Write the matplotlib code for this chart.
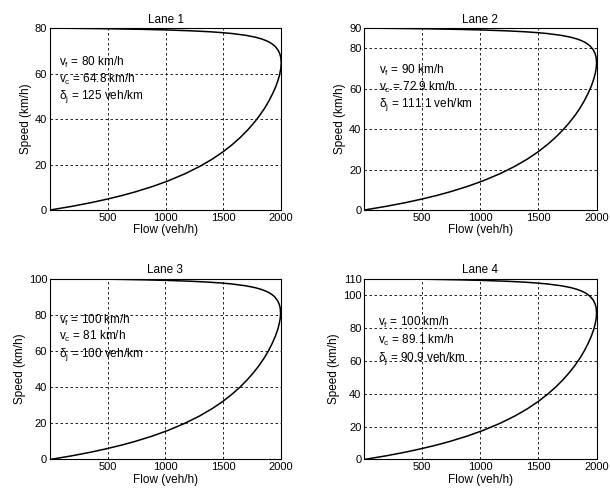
"""Speed-flow curves for four lanes (2x2 panels)."""

import matplotlib
matplotlib.use("Agg")
import matplotlib.pyplot as plt

plt.rcParams["font.family"] = ["Liberation Sans", "DejaVu Sans"]
plt.rcParams["mathtext.fontset"] = "custom"
plt.rcParams["mathtext.rm"] = "Liberation Sans"
plt.rcParams["mathtext.it"] = "Liberation Sans"

# Flow values (veh/h); same flow points used in every lane
flow = [0, 187, 351, 495, 624, 739, 890, 1021, 1170, 1296, 1404, 1497, 1577, 1648, 1710,
        1765, 1814, 1857, 1894, 1926, 1954, 1976, 1988, 1997, 2000, 1996, 1987, 1972, 1947,
        1928, 1905, 1874, 1833, 1777, 1697, 1577, 1492, 1380, 1226, 1001, 810, 548, 313, 168, 0]

# Speeds (km/h) matching the flow points above, per lane
speed1 = [0, 1.6, 3.2, 4.8, 6.4, 8, 10.4, 12.8, 16, 19.2, 22.4, 25.6, 28.8, 32, 35.2, 38.4,
          41.6, 44.8, 48, 51.2, 54.4, 57.6, 60, 62.4, 64.8, 67.2, 68.8, 70.4, 72, 72.8, 73.6,
          74.4, 75.2, 76, 76.8, 77.6, 78, 78.4, 78.8, 79.2, 79.44, 79.68, 79.84, 79.92, 80]
speed2 = [0, 1.8, 3.6, 5.4, 7.2, 9, 11.7, 14.4, 18, 21.6, 25.2, 28.8, 32.4, 36, 39.6, 43.2,
          46.8, 50.4, 54, 57.6, 61.2, 64.8, 67.5, 70.2, 72.9, 75.6, 77.4, 79.2, 81, 81.9, 82.8,
          83.7, 84.6, 85.5, 86.4, 87.3, 87.75, 88.2, 88.65, 89.1, 89.37, 89.64, 89.82, 89.91, 90]
speed3 = [0, 2, 4, 6, 8, 10, 13, 16, 20, 24, 28, 32, 36, 40, 44, 48, 52, 56, 60, 64, 68, 72,
          75, 78, 81, 84, 86, 88, 90, 91, 92, 93, 94, 95, 96, 97, 97.5, 98, 98.5, 99, 99.3,
          99.6, 99.8, 99.9, 100]
speed4 = [0, 2.2, 4.4, 6.6, 8.8, 11, 14.3, 17.6, 22, 26.4, 30.8, 35.2, 39.6, 44, 48.4, 52.8,
          57.2, 61.6, 66, 70.4, 74.8, 79.2, 82.5, 85.8, 89.1, 92.4, 94.6, 96.8, 99, 100.1,
          101.2, 102.3, 103.4, 104.5, 105.6, 106.7, 107.25, 107.8, 108.35, 108.9, 109.23,
          109.56, 109.78, 109.89, 110]

titles = ["Lane 1", "Lane 2", "Lane 3", "Lane 4"]
ymax = [80, 90, 100, 110]
yticks = [[0, 20, 40, 60, 80], [0, 20, 40, 60, 80, 90],
          [0, 20, 40, 60, 80, 100], [0, 20, 40, 60, 80, 100, 110]]
xticks = [500, 1000, 1500, 2000]
notes = [["80 km/h", "64.8 km/h", "125 veh/km"],
         ["90 km/h", "72.9 km/h", "111.1 veh/km"],
         ["100 km/h", "81 km/h", "100 veh/km"],
         ["100 km/h", "89.1 km/h", "90.9 veh/km"]]

speeds = [speed1, speed2, speed3, speed4]

# axes rectangles in figure fraction
rects = [[0.082, 0.574, 0.379, 0.369],
         [0.597, 0.574, 0.381, 0.369],
         [0.082, 0.068, 0.378, 0.367],
         [0.597, 0.068, 0.381, 0.367]]
note_pos = [(0.04, [0.813, 0.716, 0.624]),
            (0.063, [0.767, 0.675, 0.578]),
            (0.04, [0.77, 0.678, 0.58]),
            (0.06, [0.76, 0.66, 0.56])]

fig = plt.figure(figsize=(6.1, 4.93), dpi=100)
for i in range(4):
    ax = fig.add_axes(rects[i])
    ax.plot(flow, speeds[i], color="black", lw=1.1)
    ax.set_xlim(0, 2000)
    ax.set_ylim(0, ymax[i])
    ax.set_xticks(xticks)
    ax.set_yticks(yticks[i])
    ax.tick_params(length=0, labelsize=8, pad=2)
    ax.grid(True, color="black", linestyle=(0, (3, 3)), lw=0.6)
    for s in ax.spines.values():
        s.set_linewidth(0.8)
    ax.set_title(titles[i], fontsize=8.5, pad=4)
    ax.set_xlabel("Flow (veh/h)", fontsize=8.5, labelpad=1)
    ax.set_ylabel("Speed (km/h)", fontsize=8.5, labelpad=2)

    x0, ys = note_pos[i]
    labels = [r"v$_{\rm f}$ = ", r"v$_{\rm c}$ = ", r"δ$_{\rm j}$ = "]
    for lab, val, y in zip(labels, notes[i], ys):
        ax.text(x0, y, lab + val, transform=ax.transAxes, fontsize=8.5,
                va="center", ha="left")

fig.savefig("out.png", dpi=100)
